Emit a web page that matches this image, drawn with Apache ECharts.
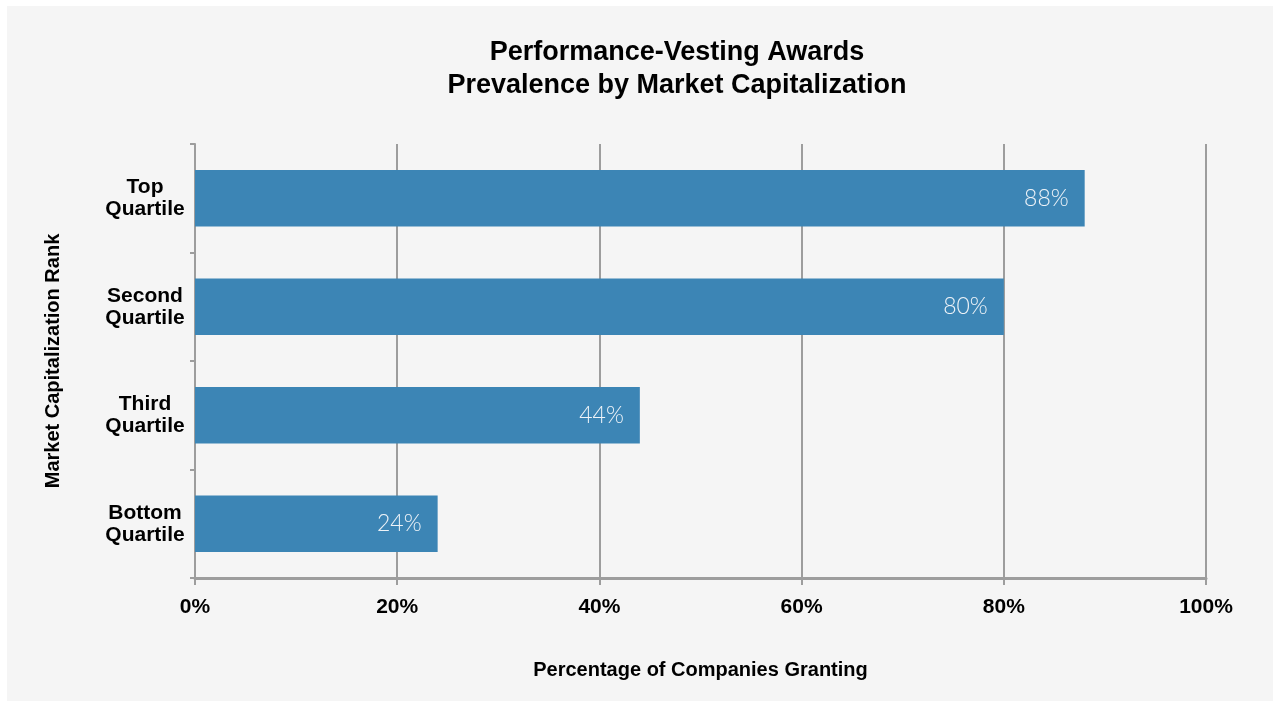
<!DOCTYPE html>
<html>
<head>
<meta charset="utf-8">
<title>Performance-Vesting Awards</title>
<script src="https://cdn.jsdelivr.net/npm/echarts@6/dist/echarts.min.js"></script>
<style>
  html, body { margin: 0; padding: 0; background: #ffffff; }
  #chart { position: absolute; left: 0; top: 0; width: 1280px; height: 706px; }
</style>
</head>
<body>
<div id="chart"></div>
<script>
// Market-cap quartiles, top to bottom
const categories = ['Top\nQuartile', 'Second\nQuartile', 'Third\nQuartile', 'Bottom\nQuartile'];
// Share of companies granting performance-vesting awards (%)
const prevalence = [88, 80, 44, 24];
// Horizontal axis ticks (%)
const xTicks = [0, 20, 40, 60, 80, 100];

const FONT = '"Liberation Sans", Arial, Helvetica, sans-serif';
const GRID_GRAY = '#9d9d9d';

const chart = echarts.init(document.getElementById('chart'), null, { renderer: 'canvas' });

chart.setOption({
  backgroundColor: 'transparent',
  animation: false,
  graphic: [{
    type: 'rect',
    z: -10,
    silent: true,
    shape: { x: 7, y: 6, width: 1266, height: 695 },
    style: { fill: '#f5f5f5' }
  }],
  title: {
    text: 'Performance-Vesting Awards\nPrevalence by Market Capitalization',
    left: 672,
    top: 31,
    textAlign: 'center',
    textStyle: {
      fontFamily: FONT,
      fontWeight: 'bold',
      fontSize: 27,
      lineHeight: 33,
      color: '#000'
    }
  },
  grid: { left: 195, right: 74, top: 144, bottom: 128, containLabel: false },
  xAxis: {
    type: 'value',
    min: xTicks[0],
    max: xTicks[xTicks.length - 1],
    interval: xTicks[1] - xTicks[0],
    name: 'Percentage of Companies Granting',
    nameLocation: 'middle',
    nameGap: 82,
    nameTextStyle: { fontFamily: FONT, fontWeight: 'bold', fontSize: 20, color: '#000' },
    axisLine: { show: true, lineStyle: { color: GRID_GRAY, width: 3 } },
    axisTick: { show: true, length: 7, lineStyle: { color: GRID_GRAY, width: 2 } },
    axisLabel: {
      formatter: '{value}%',
      margin: 19,
      fontFamily: FONT,
      fontWeight: 'bold',
      fontSize: 21,
      color: '#000'
    },
    splitLine: { show: true, lineStyle: { color: GRID_GRAY, width: 2 } }
  },
  yAxis: {
    type: 'category',
    data: categories,
    inverse: true,
    name: 'Market Capitalization Rank',
    nameLocation: 'middle',
    nameRotate: 90,
    nameGap: 132,
    nameTextStyle: { fontFamily: FONT, fontWeight: 'bold', fontSize: 20, color: '#000' },
    axisLine: { show: true, lineStyle: { color: GRID_GRAY, width: 2 } },
    axisTick: { show: true, length: 5, lineStyle: { color: GRID_GRAY, width: 2 } },
    axisLabel: {
      align: 'center',
      margin: 50,
      padding: [4, 0, 0, 0],
      fontFamily: FONT,
      fontWeight: 'bold',
      fontSize: 21,
      lineHeight: 22,
      color: '#000'
    }
  },
  series: [{
    type: 'bar',
    data: prevalence,
    barCategoryGap: '48%',
    itemStyle: { color: '#3c85b5' },
    label: {
      show: true,
      position: 'insideRight',
      distance: 16,
      formatter: '{c}%',
      fontFamily: '"Lato", "Open Sans", sans-serif',
      fontWeight: 300,
      fontSize: 23,
      color: '#eef3f8'
    }
  }]
});
</script>
</body>
</html>
